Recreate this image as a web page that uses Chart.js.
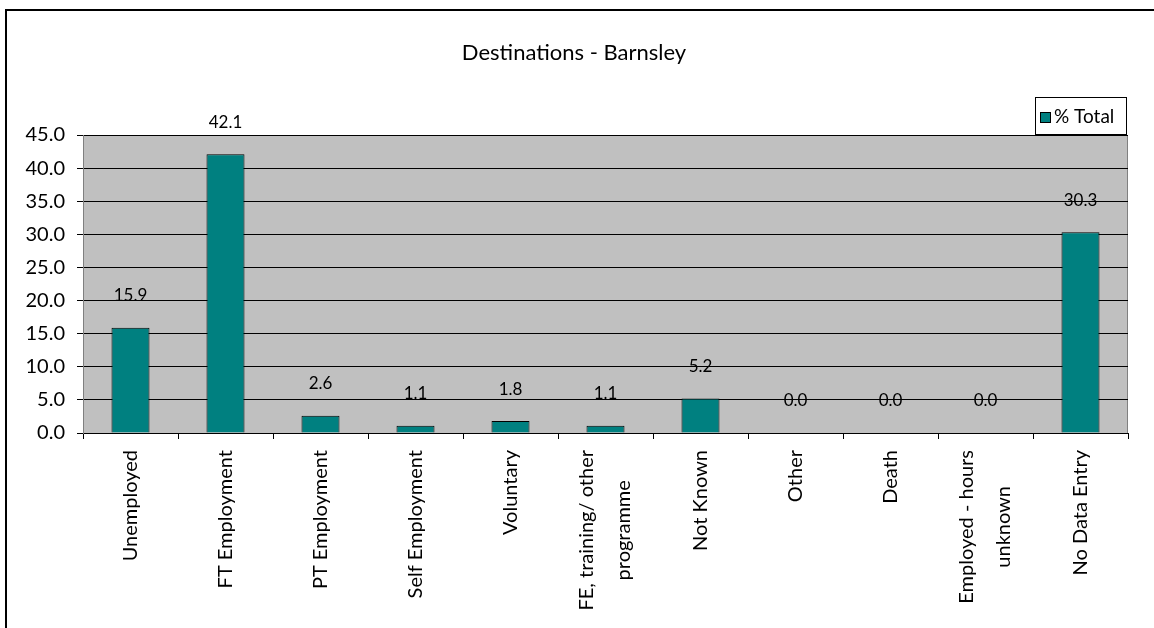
<!DOCTYPE html>
<html>
<head>
<meta charset="utf-8">
<title>Destinations - Barnsley</title>
<script src="https://cdn.jsdelivr.net/npm/chart.js@4"></script>
<style>
  body { margin: 0; background: #fff; }
  canvas { display: block; }
</style>
</head>
<body>
<canvas id="destinations" width="1154" height="628"></canvas>
<script>
// Destination categories (multi-line where the label wraps)
const categories = [
    'Unemployed',
    'FT Employment',
    'PT Employment',
    'Self Employment',
    'Voluntary',
    ['FE, training/ other', 'programme'],
    'Not Known',
    'Other',
    'Death',
    ['Employed - hours', 'unknown'],
    'No Data Entry',
];

// Percentage of total for each destination
const percentTotal = [15.9, 42.1, 2.6, 1.1, 1.8, 1.1, 5.2, 0.0, 0.0, 0.0, 30.3];

// Y axis range
const yMin = 0;
const yMax = 45;
const yStep = 5;

const FONT = 'Lato, "DejaVu Sans", sans-serif';

// Grey plot background + outer frame
const backdrop = {
    id: 'backdrop',
    beforeDraw(chart) {
        const { ctx, chartArea: a } = chart;
        ctx.save();
        ctx.fillStyle = '#c0c0c0';
        ctx.fillRect(a.left, a.top, a.right - a.left, a.bottom - a.top);
        ctx.strokeStyle = '#808080';
        ctx.lineWidth = 1;
        ctx.strokeRect(a.left + 0.5, a.top + 0.5, a.right - a.left - 1, a.bottom - a.top);
        // frame: top and left edges
        ctx.strokeStyle = '#000';
        ctx.lineWidth = 2;
        ctx.beginPath();
        ctx.moveTo(6, chart.height);
        ctx.lineTo(6, 10);
        ctx.lineTo(chart.width, 10);
        ctx.stroke();
        ctx.restore();
    }
};

// Rotated category labels, each line centred on the longest one
const categoryLabels = {
    id: 'categoryLabels',
    afterDraw(chart) {
        const { ctx } = chart;
        const xs = chart.scales.x;
        const top = xs.top + 17;
        const spacing = 37;
        ctx.save();
        ctx.font = '20px ' + FONT;
        ctx.fillStyle = '#000';
        ctx.textAlign = 'center';
        ctx.textBaseline = 'middle';
        categories.forEach((cat, i) => {
            const lines = Array.isArray(cat) ? cat : [cat];
            const maxW = Math.max(...lines.map(l => ctx.measureText(l).width));
            const px = xs.getPixelForTick(i);
            lines.forEach((line, k) => {
                const x = px - (lines.length - 1) * spacing / 2 + k * spacing;
                ctx.save();
                ctx.translate(x, top + maxW / 2);
                ctx.rotate(-Math.PI / 2);
                ctx.fillText(line, 0, 0);
                ctx.restore();
            });
        });
        ctx.restore();
    }
};

// Value labels above bars and the legend box
const annotate = {
    id: 'annotate',
    afterDatasetsDraw(chart) {
        const { ctx } = chart;
        const meta = chart.getDatasetMeta(0);
        ctx.save();
        ctx.font = '17px ' + FONT;
        ctx.fillStyle = '#000';
        ctx.textAlign = 'center';
        ctx.textBaseline = 'middle';
        meta.data.forEach((bar, i) => {
            ctx.fillText(percentTotal[i].toFixed(1), bar.x, bar.y - 32);
        });

        // legend
        const ds = chart.data.datasets[0];
        const lx = 1035, ly = 97, lw = 92, lh = 38;
        ctx.fillStyle = '#fff';
        ctx.fillRect(lx, ly, lw, lh);
        ctx.strokeStyle = '#000';
        ctx.lineWidth = 1;
        ctx.strokeRect(lx + 0.5, ly + 0.5, lw - 1, lh - 1);
        ctx.fillStyle = ds.backgroundColor;
        ctx.fillRect(lx + 5, ly + 15, 11, 11);
        ctx.strokeRect(lx + 5.5, ly + 15.5, 10, 10);
        ctx.fillStyle = '#000';
        ctx.textAlign = 'left';
        ctx.font = '19px ' + FONT;
        ctx.fillText(ds.label, lx + 19, ly + 20);
        ctx.restore();
    }
};

new Chart('destinations', {
    type: 'bar',
    data: {
        labels: categories,
        datasets: [{
            label: '% Total',
            data: percentTotal,
            backgroundColor: '#008080',
            borderColor: '#000',
            borderWidth: 1,
            barPercentage: 0.4,
            categoryPercentage: 1.0,
        }]
    },
    options: {
        responsive: false,
        animation: false,
        layout: {
            padding: { left: 20, right: 26, top: 30, bottom: 10 }
        },
        plugins: {
            legend: { display: false },
            tooltip: { enabled: false },
            title: {
                display: true,
                text: 'Destinations - Barnsley',
                color: '#000',
                font: { family: FONT, size: 22, weight: 'normal' },
                padding: { top: 10, bottom: 68.6 }
            }
        },
        scales: {
            x: {
                grid: {
                    display: true,
                    drawOnChartArea: false,
                    color: '#000',
                    tickLength: 6,
                    offset: true
                },
                border: { color: '#000' },
                ticks: { display: false },
                afterFit(scale) { scale.height = 185; }
            },
            y: {
                min: yMin,
                max: yMax,
                grid: { color: '#000', tickLength: 6 },
                border: { color: '#808080' },
                ticks: {
                    stepSize: yStep,
                    color: '#000',
                    padding: 12,
                    font: { family: FONT, size: 20 },
                    callback: v => v.toFixed(1)
                },
                afterFit(scale) { scale.width = 63; }
            }
        }
    },
    plugins: [backdrop, categoryLabels, annotate]
});
</script>
</body>
</html>
